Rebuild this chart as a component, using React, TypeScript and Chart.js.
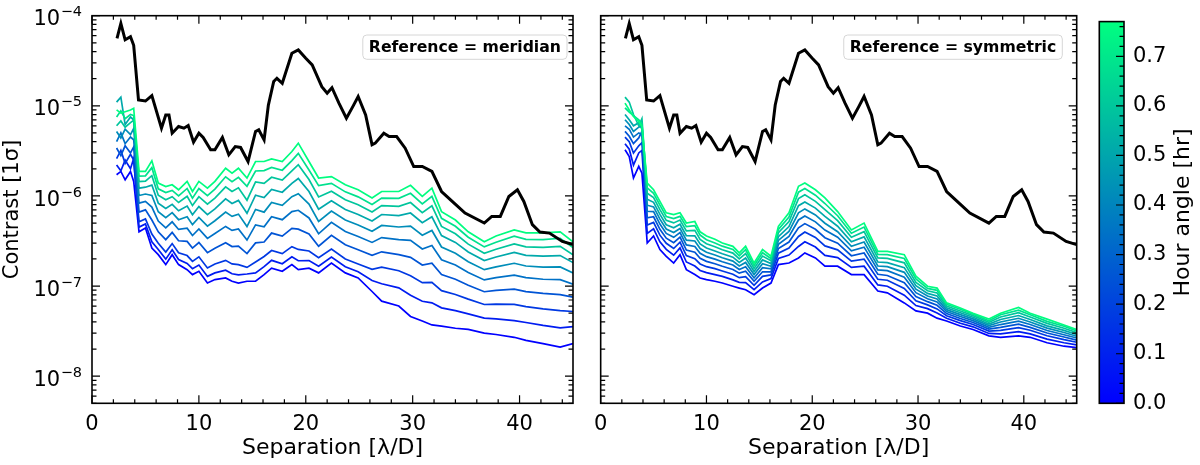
import { useEffect, useRef } from "react"
import { Chart, registerables } from "chart.js"

Chart.register(...registerables)
Chart.defaults.font.family = "'DejaVu Sans', sans-serif"
Chart.defaults.color = "#000"

// separation grid shared by the coloured curves [lambda/D]
const separation = [
  2.3, 2.7, 3.1, 3.6, 3.9, 4.4, 5.0, 5.6, 6.2, 6.9, 7.5, 8.1, 8.9, 9.4, 10.0, 10.8,
  11.5, 12.5, 13.1, 13.7, 14.5, 15.3, 16.1, 16.8, 17.8, 18.7, 19.3, 20.3, 21.2, 22.4,
  23.7, 24.9, 26.2, 27.1, 28.7, 29.8, 30.9, 31.8, 32.7, 34.0, 35.2, 36.7, 37.8, 39.5,
  40.6, 42.2, 43.8, 45.0,
]

// hour angle of each coloured curve [hr], colour scale top
const hourAngles = [0, 0.085, 0.17, 0.255, 0.34, 0.425, 0.51, 0.595, 0.68, 0.765]
const hourAngleMax = 0.77

// raw contrast (black)
const rawSep = [
  2.34, 2.7, 3.1, 3.6, 3.9, 4.35, 5.0, 5.6, 6.5, 6.9, 7.2, 7.5, 8.1, 8.6, 9.0, 9.5, 10.0,
  10.4, 11.1, 11.5, 12.2, 12.8, 13.4, 13.9, 14.6, 15.3, 15.6, 16.1, 16.5, 17.0, 17.3, 17.8,
  18.7, 19.3, 20.0, 20.6, 21.5, 22.0, 22.45, 23.1, 23.8, 24.4, 24.9, 25.6, 26.2, 26.5, 27.3,
  27.8, 28.5, 29.3, 30.1, 30.9, 31.8, 32.7, 33.7, 34.9, 36.7, 37.4, 38.2, 39.0, 39.8, 40.4,
  41.2, 41.9, 42.8, 44.0, 45.0,
]
const rawContrast = [
  5.6e-5, 8.2e-5, 5.4e-5, 5.85e-5, 4.7e-5, 1.16e-5, 1.13e-5, 1.3e-5, 5.65e-6, 7.9e-6,
  7.9e-6, 4.97e-6, 5.9e-6, 5.65e-6, 6.04e-6, 3.95e-6, 4.97e-6, 4.45e-6, 3.25e-6, 3.25e-6,
  4.45e-6, 2.86e-6, 3.53e-6, 3.45e-6, 2.41e-6, 5.19e-6, 5.41e-6, 4.19e-6, 1.02e-5, 1.86e-5,
  2.02e-5, 1.78e-5, 3.83e-5, 4.17e-5, 3.37e-5, 2.84e-5, 1.63e-5, 1.38e-5, 1.59e-5, 1.07e-5,
  7.28e-6, 9.8e-6, 1.27e-5, 7.9e-6, 3.69e-6, 3.85e-6, 4.97e-6, 4.56e-6, 4.56e-6, 3.39e-6,
  2.12e-6, 2.12e-6, 1.87e-6, 1.12e-6, 8.69e-7, 6.46e-7, 5.0e-7, 5.93e-7, 5.93e-7, 9.87e-7,
  1.17e-6, 8.69e-7, 4.8e-7, 3.97e-7, 3.87e-7, 3.13e-7, 2.88e-7,
]

// Reference = meridian, one curve per hour angle
const mer0 = [
  1.72e-6, 1.87e-6, 1.51e-6, 1.87e-6, 1.45e-6, 4.0e-7, 4.4e-7, 2.64e-7, 2.23e-7, 1.73e-7,
  2.23e-7, 1.73e-7, 1.52e-7, 1.34e-7, 1.46e-7, 1.08e-7, 1.18e-7, 1.23e-7, 1.13e-7, 1.08e-7,
  1.13e-7, 1.13e-7, 1.34e-7, 1.58e-7, 1.46e-7, 1.73e-7, 1.52e-7, 1.58e-7, 1.4e-7, 1.8e-7,
  1.4e-7, 1.23e-7, 8.7e-8, 6.8e-8, 6.0e-8, 4.6e-8, 4.1e-8, 3.7e-8, 3.6e-8, 3.4e-8,
  3.3e-8, 3.0e-8, 2.9e-8, 2.7e-8, 2.5e-8, 2.3e-8, 2.1e-8, 2.3e-8,
]
const mer1 = [
  2.2e-6, 1.9e-6, 2.5e-6, 2.0e-6, 2.6e-6, 4.51e-7, 4.88e-7, 3.09e-7, 2.54e-7, 1.99e-7,
  2.52e-7, 1.97e-7, 1.78e-7, 1.56e-7, 1.71e-7, 1.28e-7, 1.4e-7, 1.5e-7, 1.37e-7, 1.33e-7,
  1.36e-7, 1.4e-7, 1.64e-7, 1.93e-7, 1.77e-7, 2.11e-7, 1.91e-7, 1.92e-7, 1.66e-7, 2.1e-7,
  1.64e-7, 1.44e-7, 1.15e-7, 1.06e-7, 9.55e-8, 7.89e-8, 6.78e-8, 6.52e-8, 5.73e-8, 5.33e-8,
  4.91e-8, 4.4e-8, 4.33e-8, 4.14e-8, 3.94e-8, 3.66e-8, 3.44e-8, 3.54e-8,
]
const mer2 = [
  2.6e-6, 3.2e-6, 2.3e-6, 2.9e-6, 2.5e-6, 5.16e-7, 5.55e-7, 3.78e-7, 2.99e-7, 2.38e-7,
  2.96e-7, 2.34e-7, 2.18e-7, 1.88e-7, 2.11e-7, 1.59e-7, 1.76e-7, 1.93e-7, 1.76e-7, 1.73e-7,
  1.61e-7, 1.85e-7, 2.13e-7, 2.48e-7, 2.29e-7, 2.74e-7, 2.55e-7, 2.45e-7, 2.06e-7, 2.57e-7,
  2.0e-7, 1.76e-7, 1.53e-7, 1.62e-7, 1.48e-7, 1.3e-7, 1.09e-7, 1.1e-7, 8.89e-8, 8.07e-8,
  7.16e-8, 6.24e-8, 6.31e-8, 6.27e-8, 5.92e-8, 5.58e-8, 5.33e-8, 5.22e-8,
]
const mer3 = [
  3.4e-6, 2.8e-6, 3.6e-6, 3.0e-6, 3.5e-6, 6.61e-7, 7.0e-7, 5.4e-7, 4.0e-7, 3.27e-7,
  3.94e-7, 3.18e-7, 3.13e-7, 2.64e-7, 3.04e-7, 2.35e-7, 2.63e-7, 3.02e-7, 2.74e-7, 2.77e-7,
  2.29e-7, 3.01e-7, 3.08e-7, 3.87e-7, 3.58e-7, 4.36e-7, 4.28e-7, 3.78e-7, 2.77e-7, 3.66e-7,
  2.87e-7, 2.53e-7, 2.19e-7, 2.4e-7, 2.23e-7, 2.08e-7, 1.71e-7, 1.79e-7, 1.34e-7, 1.19e-7,
  1.02e-7, 8.65e-8, 8.95e-8, 9.23e-8, 8.67e-8, 8.28e-8, 8.05e-8, 7.52e-8,
]
const mer4 = [
  4.0e-6, 5.0e-6, 3.8e-6, 4.5e-6, 4.2e-6, 8.32e-7, 8.69e-7, 7.53e-7, 5.26e-7, 4.42e-7,
  5.16e-7, 4.25e-7, 4.39e-7, 3.64e-7, 4.3e-7, 3.38e-7, 3.83e-7, 4.59e-7, 4.14e-7, 4.3e-7,
  3.24e-7, 4.77e-7, 4.54e-7, 5.89e-7, 5.45e-7, 6.71e-7, 6.93e-7, 5.7e-7, 3.8e-7, 5.09e-7,
  4.03e-7, 3.55e-7, 3.05e-7, 3.45e-7, 3.27e-7, 3.21e-7, 2.58e-7, 2.82e-7, 1.96e-7, 1.71e-7,
  1.41e-7, 1.17e-7, 1.24e-7, 1.32e-7, 1.24e-7, 1.19e-7, 1.18e-7, 1.05e-7,
]
const mer5 = [
  5.2e-6, 4.4e-6, 5.5e-6, 4.8e-6, 5.6e-6, 1.01e-6, 1.05e-6, 1.01e-6, 6.67e-7, 5.73e-7,
  6.52e-7, 5.45e-7, 5.87e-7, 4.8e-7, 5.78e-7, 4.63e-7, 5.31e-7, 6.62e-7, 5.93e-7, 6.28e-7,
  4.57e-7, 7.08e-7, 6.61e-7, 8.45e-7, 7.85e-7, 9.8e-7, 1.06e-6, 8.11e-7, 5.21e-7, 6.79e-7,
  5.4e-7, 4.75e-7, 4.06e-7, 4.7e-7, 4.52e-7, 4.63e-7, 3.67e-7, 4.14e-7, 2.71e-7, 2.31e-7,
  1.86e-7, 1.52e-7, 1.63e-7, 1.79e-7, 1.67e-7, 1.62e-7, 1.63e-7, 1.4e-7,
]
const mer6 = [
  1.1e-5, 1.25e-5, 6.2e-6, 7.5e-6, 7.0e-6, 1.22e-6, 1.25e-6, 1.32e-6, 8.32e-7, 7.28e-7,
  8.07e-7, 6.84e-7, 7.71e-7, 6.19e-7, 7.62e-7, 6.19e-7, 7.18e-7, 9.27e-7, 8.26e-7, 8.93e-7,
  6.41e-7, 1.02e-6, 9.57e-7, 1.18e-6, 1.1e-6, 1.38e-6, 1.56e-6, 1.12e-6, 7.13e-7, 8.85e-7,
  7.08e-7, 6.22e-7, 5.28e-7, 6.22e-7, 6.05e-7, 6.47e-7, 5.05e-7, 5.87e-7, 3.63e-7, 3.05e-7,
  2.39e-7, 1.92e-7, 2.1e-7, 2.36e-7, 2.19e-7, 2.15e-7, 2.18e-7, 1.82e-7,
]
const mer7 = [
  6.0e-6, 6.8e-6, 5.8e-6, 6.5e-6, 6.9e-6, 1.44e-6, 1.46e-6, 1.68e-6, 1.02e-6, 9.06e-7,
  9.8e-7, 8.45e-7, 9.9e-7, 7.82e-7, 9.8e-7, 8.09e-7, 9.46e-7, 1.26e-6, 1.12e-6, 1.23e-6,
  8.97e-7, 1.43e-6, 1.38e-6, 1.61e-6, 1.5e-6, 1.9e-6, 2.22e-6, 1.52e-6, 9.75e-7, 1.13e-6,
  9.08e-7, 7.98e-7, 6.62e-7, 7.8e-7, 7.66e-7, 8.45e-7, 6.52e-7, 7.76e-7, 4.59e-7, 3.8e-7,
  2.92e-7, 2.31e-7, 2.56e-7, 2.94e-7, 2.72e-7, 2.69e-7, 2.76e-7, 2.23e-7,
]
const mer8 = [
  7.5e-6, 8.8e-6, 7.2e-6, 8.0e-6, 7.8e-6, 1.66e-6, 1.67e-6, 2.06e-6, 1.2e-6, 1.09e-6,
  1.15e-6, 1.0e-6, 1.21e-6, 9.46e-7, 1.21e-6, 1.01e-6, 1.19e-6, 1.63e-6, 1.44e-6, 1.61e-6,
  1.28e-6, 1.89e-6, 1.91e-6, 2.07e-6, 1.93e-6, 2.47e-6, 2.97e-6, 1.94e-6, 1.3e-6, 1.38e-6,
  1.11e-6, 9.77e-7, 8.02e-7, 9.48e-7, 9.42e-7, 1.07e-6, 8.15e-7, 9.9e-7, 5.65e-7, 4.61e-7,
  3.48e-7, 2.72e-7, 3.06e-7, 3.57e-7, 3.29e-7, 3.27e-7, 3.39e-7, 2.68e-7,
]
const mer9 = [
  9.0e-6, 8.3e-6, 8.6e-6, 9.0e-6, 9.4e-6, 1.87e-6, 1.87e-6, 2.45e-6, 1.39e-6, 1.27e-6,
  1.33e-6, 1.17e-6, 1.45e-6, 1.12e-6, 1.45e-6, 1.22e-6, 1.45e-6, 2.03e-6, 1.79e-6, 2.03e-6,
  1.58e-6, 2.41e-6, 2.41e-6, 2.58e-6, 2.41e-6, 3.11e-6, 3.85e-6, 2.41e-6, 1.58e-6, 1.64e-6,
  1.33e-6, 1.17e-6, 9.5e-7, 1.12e-6, 1.12e-6, 1.31e-6, 9.9e-7, 1.22e-6, 6.7e-7, 5.4e-7,
  4.0e-7, 3.1e-7, 3.6e-7, 4.2e-7, 3.9e-7, 3.9e-7, 4.0e-7, 3.1e-7,
]

// Reference = symmetric, one curve per hour angle
const sym0 = [
  3.25e-6, 2.74e-6, 1.58e-6, 2.13e-6, 1.79e-6, 3.0e-7, 3.6e-7, 2.54e-7, 2.14e-7, 1.8e-7,
  2.23e-7, 1.52e-7, 1.34e-7, 1.23e-7, 1.18e-7, 1.13e-7, 1.08e-7, 9.95e-8, 9.5e-8, 9.1e-8,
  8.0e-8, 9.5e-8, 1.08e-7, 1.73e-7, 1.8e-7, 2.05e-7, 2.33e-7, 2.05e-7, 1.66e-7, 1.66e-7,
  1.34e-7, 1.34e-7, 8.8e-8, 8.4e-8, 6.5e-8, 5.3e-8, 5.0e-8, 4.4e-8, 4.1e-8, 3.6e-8,
  3.3e-8, 2.8e-8, 2.7e-8, 2.8e-8, 2.7e-8, 2.35e-8, 2.15e-8, 2.07e-8,
]
const sym1 = [
  3.8e-6, 3.3e-6, 2.2e-6, 3.0e-6, 3.2e-6, 3.84e-7, 4.32e-7, 3.09e-7, 2.55e-7, 2.2e-7,
  2.65e-7, 1.85e-7, 1.67e-7, 1.49e-7, 1.41e-7, 1.34e-7, 1.28e-7, 1.17e-7, 1.1e-7, 1.09e-7,
  9.14e-8, 1.11e-7, 1.21e-7, 2.02e-7, 2.21e-7, 2.75e-7, 3.1e-7, 2.71e-7, 2.19e-7, 2.07e-7,
  1.61e-7, 1.66e-7, 1.03e-7, 9.95e-8, 7.93e-8, 6.07e-8, 5.62e-8, 5.01e-8, 4.39e-8, 3.86e-8,
  3.53e-8, 2.98e-8, 2.95e-8, 3.12e-8, 2.95e-8, 2.58e-8, 2.35e-8, 2.22e-8,
]
const sym2 = [
  4.5e-6, 4.0e-6, 3.0e-6, 3.6e-6, 3.9e-6, 4.75e-7, 5.09e-7, 3.67e-7, 2.98e-7, 2.61e-7,
  3.07e-7, 2.18e-7, 2.01e-7, 1.76e-7, 1.64e-7, 1.56e-7, 1.47e-7, 1.35e-7, 1.24e-7, 1.27e-7,
  1.02e-7, 1.28e-7, 1.33e-7, 2.32e-7, 2.64e-7, 3.55e-7, 3.98e-7, 3.46e-7, 2.79e-7, 2.52e-7,
  1.89e-7, 1.99e-7, 1.19e-7, 1.16e-7, 9.42e-8, 6.87e-8, 6.18e-8, 5.58e-8, 4.69e-8, 4.13e-8,
  3.74e-8, 3.16e-8, 3.23e-8, 3.45e-8, 3.23e-8, 2.81e-8, 2.54e-8, 2.38e-8,
]
const sym3 = [
  5.2e-6, 4.6e-6, 3.8e-6, 4.4e-6, 5.2e-6, 5.71e-7, 5.87e-7, 4.26e-7, 3.4e-7, 3.03e-7,
  3.49e-7, 2.51e-7, 2.37e-7, 2.03e-7, 1.88e-7, 1.77e-7, 1.66e-7, 1.53e-7, 1.39e-7, 1.46e-7,
  1.13e-7, 1.44e-7, 1.44e-7, 2.61e-7, 3.08e-7, 4.42e-7, 4.93e-7, 4.27e-7, 3.44e-7, 2.99e-7,
  2.17e-7, 2.33e-7, 1.35e-7, 1.31e-7, 1.09e-7, 7.66e-8, 6.71e-8, 6.12e-8, 4.95e-8, 4.37e-8,
  3.94e-8, 3.33e-8, 3.48e-8, 3.77e-8, 3.48e-8, 3.01e-8, 2.72e-8, 2.51e-8,
]
const sym4 = [
  6.0e-6, 5.5e-6, 4.5e-6, 5.0e-6, 4.8e-6, 6.76e-7, 6.7e-7, 4.88e-7, 3.84e-7, 3.47e-7,
  3.92e-7, 2.86e-7, 2.75e-7, 2.31e-7, 2.12e-7, 1.99e-7, 1.86e-7, 1.71e-7, 1.53e-7, 1.64e-7,
  1.23e-7, 1.6e-7, 1.55e-7, 2.9e-7, 3.55e-7, 5.41e-7, 6.0e-7, 5.16e-7, 4.18e-7, 3.48e-7,
  2.46e-7, 2.7e-7, 1.51e-7, 1.48e-7, 1.25e-7, 8.45e-8, 7.23e-8, 6.65e-8, 5.22e-8, 4.6e-8,
  4.13e-8, 3.48e-8, 3.74e-8, 4.07e-8, 3.74e-8, 3.21e-8, 2.88e-8, 2.65e-8,
]
const sym5 = [
  7.0e-6, 6.2e-6, 5.2e-6, 5.8e-6, 6.0e-6, 7.89e-7, 7.55e-7, 5.52e-7, 4.29e-7, 3.93e-7,
  4.36e-7, 3.23e-7, 3.16e-7, 2.61e-7, 2.37e-7, 2.21e-7, 2.06e-7, 1.89e-7, 1.67e-7, 1.83e-7,
  1.34e-7, 1.77e-7, 1.66e-7, 3.21e-7, 4.03e-7, 6.49e-7, 7.18e-7, 6.15e-7, 4.98e-7, 4.01e-7,
  2.76e-7, 3.08e-7, 1.67e-7, 1.64e-7, 1.42e-7, 9.23e-8, 7.74e-8, 7.19e-8, 5.47e-8, 4.82e-8,
  4.32e-8, 3.64e-8, 3.99e-8, 4.39e-8, 3.99e-8, 3.41e-8, 3.05e-8, 2.77e-8,
]
const sym6 = [
  8.0e-6, 7.0e-6, 6.0e-6, 6.5e-6, 5.5e-6, 9.18e-7, 8.49e-7, 6.24e-7, 4.79e-7, 4.44e-7,
  4.85e-7, 3.63e-7, 3.61e-7, 2.93e-7, 2.64e-7, 2.45e-7, 2.28e-7, 2.09e-7, 1.83e-7, 2.05e-7,
  1.45e-7, 1.95e-7, 1.78e-7, 3.53e-7, 4.57e-7, 7.8e-7, 8.57e-7, 7.33e-7, 5.92e-7, 4.61e-7,
  3.1e-7, 3.51e-7, 1.85e-7, 1.82e-7, 1.6e-7, 1.01e-7, 8.28e-8, 7.76e-8, 5.73e-8, 5.05e-8,
  4.5e-8, 3.79e-8, 4.25e-8, 4.71e-8, 4.25e-8, 3.62e-8, 3.22e-8, 2.9e-8,
]
const sym7 = [
  1.25e-5, 1.1e-5, 8.0e-6, 6.0e-6, 7.2e-6, 1.07e-6, 9.57e-7, 7.06e-7, 5.35e-7, 5.02e-7,
  5.4e-7, 4.09e-7, 4.15e-7, 3.3e-7, 2.95e-7, 2.73e-7, 2.53e-7, 2.32e-7, 2.0e-7, 2.29e-7,
  1.57e-7, 2.15e-7, 1.91e-7, 3.9e-7, 5.2e-7, 9.35e-7, 1.03e-6, 8.71e-7, 7.05e-7, 5.31e-7,
  3.48e-7, 4.01e-7, 2.05e-7, 2.03e-7, 1.81e-7, 1.1e-7, 8.87e-8, 8.38e-8, 6.0e-8, 5.28e-8,
  4.7e-8, 3.96e-8, 4.53e-8, 5.07e-8, 4.53e-8, 3.85e-8, 3.4e-8, 3.04e-8,
]
const sym8 = [
  9.5e-6, 8.5e-6, 7.8e-6, 7.0e-6, 6.3e-6, 1.23e-6, 1.07e-6, 7.89e-7, 5.92e-7, 5.61e-7,
  5.93e-7, 4.56e-7, 4.69e-7, 3.68e-7, 3.27e-7, 3.01e-7, 2.77e-7, 2.55e-7, 2.17e-7, 2.53e-7,
  1.69e-7, 2.34e-7, 2.02e-7, 4.26e-7, 5.83e-7, 1.1e-6, 1.21e-6, 1.02e-6, 8.24e-7, 6.03e-7,
  3.85e-7, 4.51e-7, 2.24e-7, 2.23e-7, 2.02e-7, 1.2e-7, 9.42e-8, 8.97e-8, 6.27e-8, 5.52e-8,
  4.88e-8, 4.11e-8, 4.8e-8, 5.41e-8, 4.8e-8, 4.06e-8, 3.58e-8, 3.18e-8,
]
const sym9 = [
  1.07e-5, 9.0e-6, 7.6e-6, 6.7e-6, 5.9e-6, 1.39e-6, 1.17e-6, 8.7e-7, 6.5e-7, 6.2e-7,
  6.5e-7, 5.0e-7, 5.2e-7, 4.0e-7, 3.6e-7, 3.3e-7, 3.0e-7, 2.76e-7, 2.33e-7, 2.76e-7,
  1.8e-7, 2.54e-7, 2.14e-7, 4.6e-7, 6.5e-7, 1.28e-6, 1.39e-6, 1.17e-6, 9.5e-7, 6.7e-7,
  4.2e-7, 5.0e-7, 2.43e-7, 2.43e-7, 2.23e-7, 1.29e-7, 9.95e-8, 9.5e-8, 6.5e-8, 5.7e-8,
  5.0e-8, 4.3e-8, 5.0e-8, 5.8e-8, 5.0e-8, 4.3e-8, 3.7e-8, 3.3e-8,
]

const meridianCurves = [mer0, mer1, mer2, mer3, mer4, mer5, mer6, mer7, mer8, mer9]
const symmetricCurves = [sym0, sym1, sym2, sym3, sym4, sym5, sym6, sym7, sym8, sym9]

// axis ticks
const sepTicks = [0, 10, 20, 30, 40]
const contrastTicks = [1e-8, 1e-7, 1e-6, 1e-5, 1e-4]
const hourAngleTicks = [0, 0.1, 0.2, 0.3, 0.4, 0.5, 0.6, 0.7]

const sepMinor = Array.from({ length: 23 }, (_, i) => i * 2).filter((v) => v % 10 !== 0)
const contrastMinor = [-9, -8, -7, -6, -5]
  .flatMap((e) => [2, 3, 4, 5, 6, 7, 8, 9].map((m) => m * 10 ** e))
  .filter((v) => v >= 5e-9 && v <= 1e-4)
const hourAngleMinor = Array.from({ length: 39 }, (_, i) => i)
  .filter((i) => i % 5 !== 0)
  .map((i) => i * 0.02)

const H = 465
const FONT = "'DejaVu Sans', sans-serif"

// matplotlib "winter" colormap
const winter = (t: number) =>
  `rgb(0, ${Math.round(255 * t)}, ${Math.round(255 - 127.5 * t)})`

function axesFrame(cfg: any) {
  return {
    id: "axesFrame",
    afterDatasetsDraw(chart: any) {
      const { ctx, chartArea: a, scales } = chart
      ctx.save()
      ctx.strokeStyle = "#000"
      ctx.lineWidth = 1.2
      ctx.beginPath()
      const xt = (vals: number[] = [], len: number) => {
        for (const v of vals) {
          const p = scales.x.getPixelForValue(v)
          if (cfg.xSides.includes("bottom")) { ctx.moveTo(p, a.bottom); ctx.lineTo(p, a.bottom - len) }
          if (cfg.xSides.includes("top")) { ctx.moveTo(p, a.top); ctx.lineTo(p, a.top + len) }
        }
      }
      const yt = (vals: number[] = [], len: number) => {
        for (const v of vals) {
          const p = scales.y.getPixelForValue(v)
          if (cfg.ySides.includes("left")) { ctx.moveTo(a.left, p); ctx.lineTo(a.left + len, p) }
          if (cfg.ySides.includes("right")) { ctx.moveTo(a.right, p); ctx.lineTo(a.right - len, p) }
        }
      }
      xt(cfg.xMajor, 8)
      xt(cfg.xMinor, 4)
      yt(cfg.yMajor, 8)
      yt(cfg.yMinor, 4.5)
      ctx.stroke()
      ctx.lineWidth = 1.6
      ctx.strokeRect(a.left, a.top, a.right - a.left, a.bottom - a.top)
      ctx.restore()
    },
  }
}

// "10" with a raised exponent, like matplotlib's log tick labels
const powerLabels = {
  id: "powerLabels",
  afterDraw(chart: any) {
    const { ctx, chartArea: a, scales } = chart
    ctx.save()
    ctx.fillStyle = "#000"
    ctx.textBaseline = "alphabetic"
    ctx.textAlign = "left"
    for (const v of contrastTicks) {
      const y = scales.y.getPixelForValue(v)
      const exp = "\u2212" + Math.abs(Math.round(Math.log10(v)))
      ctx.font = `14.5px ${FONT}`
      const we = ctx.measureText(exp).width
      ctx.font = `21px ${FONT}`
      const wb = ctx.measureText("10").width
      const right = a.left - 10
      ctx.fillText("10", right - we - wb - 0.5, y + 9.6)
      ctx.font = `14.5px ${FONT}`
      ctx.fillText(exp, right - we, y + 0.6)
    }
    ctx.restore()
  },
}

function legendBox(text: string, gap: number) {
  return {
    id: "legendBox",
    afterDraw(chart: any) {
      const { ctx, chartArea: a } = chart
      ctx.save()
      ctx.font = `bold 15.7px ${FONT}`
      const w = ctx.measureText(text).width + 12
      const h = 24.3
      const x = a.right - gap - w
      const y = a.top + 19.3
      ctx.beginPath()
      ctx.roundRect(x, y, w, h, 4)
      ctx.fillStyle = "rgba(255,255,255,0.8)"
      ctx.fill()
      ctx.strokeStyle = "#d6d6d6"
      ctx.lineWidth = 1
      ctx.stroke()
      ctx.fillStyle = "#000"
      ctx.textAlign = "center"
      ctx.textBaseline = "middle"
      ctx.fillText(text, x + w / 2, y + h / 2 + 1)
      ctx.restore()
    },
  }
}

const colorbarTitle = {
  id: "colorbarTitle",
  afterDraw(chart: any) {
    const { ctx, chartArea: a } = chart
    ctx.save()
    ctx.translate(98, (a.top + a.bottom) / 2)
    ctx.rotate(-Math.PI / 2)
    ctx.font = `22px ${FONT}`
    ctx.fillStyle = "#000"
    ctx.textAlign = "center"
    ctx.textBaseline = "middle"
    ctx.fillText("Hour angle [hr]", 0, 0)
    ctx.restore()
  },
}

function panelConfig(curves: number[][], legend: string, legendGap: number, showY: boolean, yWidth: number, padRight: number) {
  const coloured = curves.map((vals, k) => ({
    data: vals.map((v, i) => ({ x: separation[i], y: v })),
    borderColor: winter(hourAngles[k] / hourAngleMax),
    borderWidth: 1.7,
    pointRadius: 0,
    order: curves.length - k,
  }))
  const raw = {
    data: rawContrast.map((v, i) => ({ x: rawSep[i], y: v })),
    borderColor: "#000",
    borderWidth: 3,
    pointRadius: 0,
    order: 0,
  }
  const plugins: any[] = [
    axesFrame({
      xMajor: sepTicks,
      xMinor: sepMinor,
      yMajor: contrastTicks,
      yMinor: contrastMinor,
      xSides: ["bottom", "top"],
      ySides: ["left", "right"],
    }),
    legendBox(legend, legendGap),
  ]
  if (showY) plugins.push(powerLabels)
  return {
    type: "line",
    data: { datasets: [raw, ...coloured] },
    options: {
      responsive: false,
      animation: false,
      layout: { padding: { left: 0, right: padRight, top: 15.7, bottom: 0 } },
      plugins: { legend: { display: false }, tooltip: { enabled: false } },
      scales: {
        x: {
          type: "linear",
          min: 0,
          max: 45,
          afterBuildTicks: (s: any) => { s.ticks = sepTicks.map((value) => ({ value })) },
          afterFit: (s: any) => { s.height = 61.7 },
          grid: { display: false, drawTicks: false },
          border: { display: false },
          ticks: { font: { size: 21 }, color: "#000", padding: 9, maxRotation: 0 },
          title: {
            display: true,
            text: "Separation [λ/D]",
            font: { size: 22 },
            color: "#000",
            padding: { top: 0, bottom: 4 },
          },
        },
        y: {
          type: "logarithmic",
          min: 5e-9,
          max: 1e-4,
          afterBuildTicks: (s: any) => { s.ticks = contrastTicks.map((value) => ({ value })) },
          afterFit: (s: any) => { s.width = yWidth },
          grid: { display: false, drawTicks: false },
          border: { display: false },
          ticks: { display: false },
          title: {
            display: showY,
            text: "Contrast [1σ]",
            font: { size: 21 },
            color: "#000",
            padding: 0,
          },
        },
      },
    },
    plugins,
  }
}

function colorbarConfig() {
  return {
    type: "bar",
    data: {
      labels: [""],
      datasets: [
        {
          data: [hourAngleMax],
          backgroundColor: (c: any) => {
            const a = c.chart.chartArea
            if (!a) return winter(0)
            const g = c.chart.ctx.createLinearGradient(0, a.bottom, 0, a.top)
            g.addColorStop(0, winter(0))
            g.addColorStop(1, winter(1))
            return g
          },
          borderWidth: 0,
          barPercentage: 1,
          categoryPercentage: 1,
        },
      ],
    },
    options: {
      responsive: false,
      animation: false,
      layout: { padding: { left: 14.3, right: 0, top: 15.7, bottom: 61.7 } },
      plugins: { legend: { display: false }, tooltip: { enabled: false } },
      scales: {
        x: { display: false },
        y: {
          position: "right",
          min: 0,
          max: hourAngleMax,
          afterBuildTicks: (s: any) => { s.ticks = hourAngleTicks.map((value) => ({ value })) },
          afterFit: (s: any) => { s.width = 76 },
          grid: { display: false, drawTicks: false },
          border: { display: false },
          ticks: {
            font: { size: 21 },
            color: "#000",
            padding: 9,
            callback: (v: any) => Number(v).toFixed(1),
          },
        },
      },
    },
    plugins: [
      axesFrame({ yMajor: hourAngleTicks, yMinor: hourAngleMinor, xSides: [], ySides: ["right"] }),
      colorbarTitle,
    ],
  }
}

function ChartCanvas({ left, width, build }: { left: number; width: number; build: () => any }) {
  const ref = useRef<HTMLCanvasElement>(null)
  useEffect(() => {
    if (!ref.current) return
    const chart = new Chart(ref.current, build())
    return () => chart.destroy()
  }, [])
  return (
    <canvas
      ref={ref}
      width={width}
      height={H}
      style={{ position: "absolute", left, top: 0, width, height: H }}
    />
  )
}

export default function App() {
  return (
    <div style={{ position: "fixed", left: 0, top: 0, width: 1200, height: H, background: "#fff" }}>
      <ChartCanvas
        left={0}
        width={585}
        build={() => panelConfig(meridianCurves, "Reference = meridian", 6, true, 92, 12)}
      />
      <ChartCanvas
        left={585}
        width={500}
        build={() => panelConfig(symmetricCurves, "Reference = symmetric", 14.4, false, 11, 8.3)}
      />
      <ChartCanvas left={1085} width={115} build={colorbarConfig} />
    </div>
  )
}
